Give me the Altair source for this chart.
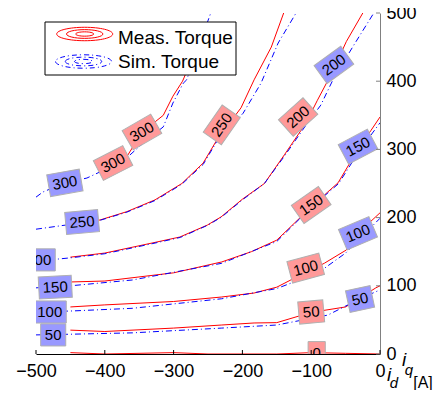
import altair as alt
import pandas as pd

# ---------------- data ----------------
LEVELS = [0, 50, 100, 150, 200, 250, 300]

# measured torque contours (red, solid)
M0_X = [-450, -400, -300, -250, -200, -150, -100, -50, 0]
M0_Y = [2, 0, 2, 0, 0, 0, 2, 1, 0]
M50_X = [-450, -400, -300, -230, -183, -150, -100, -50, -6, 0]
M50_Y = [35, 33, 38, 42.5, 45.5, 46, 61, 69, 97, 100]
M100_X = [-450, -400, -300, -230, -183, -150, -125, -81, -49, -32, 0]
M100_Y = [69, 72, 77, 83.6, 89.4, 98, 111, 133, 152.5, 177, 207]
M150_X = [-450, -400, -300, -230, -187, -150, -115, -76, -61, -32, -13, 0]
M150_Y = [105.6, 107, 119, 135, 150, 167, 201, 237.5, 251, 300, 328, 347.5]
M200_X = [-450, -400, -330, -291, -251, -231, -200, -168, -139, -108, -91, -69, -49, -25]
M200_Y = [142, 148, 163, 171.5, 189, 201, 227, 250, 292, 338, 372, 414, 458, 500]
M250_X = [-450, -407, -368, -327, -288, -257, -237, -202, -183, -158, -140]
M250_Y = [190, 196.5, 208.7, 226, 250, 280, 314, 361, 402, 450, 500]
M300_X = [-405, -388, -371, -346, -315, -301, -287, -270, -262]
M300_Y = [272, 280, 284.5, 325, 350, 378, 400, 440, 470]

# simulated torque contours (blue, dash-dot)
S50_X = [-500, -450, -360, -230, -150, -76, -29, 0]
S50_Y = [28, 29, 31, 38, 42.5, 57, 81, 94]
S100_X = [-500, -450, -360, -230, -150, -90, -50, 0]
S100_Y = [62, 63, 67, 81, 96, 119, 148, 199]
S150_X = [-500, -450, -360, -230, -150, -100, -60, -30, 0]
S150_Y = [97, 100, 108.5, 133, 165, 215, 250, 298, 339]
S200_X = [-500, -450, -400, -330, -290, -250, -230, -200, -168, -139, -108, -86, -67, -38, -9]
S200_Y = [136, 141, 147, 162, 171, 189, 201, 226, 250, 290, 335, 365, 405, 453, 500]
S250_X = [-500, -450, -407, -368, -327, -288, -257, -237, -199, -173, -148, -122]
S250_Y = [183, 190, 196, 208, 225, 249, 278, 312, 353, 397, 456, 500]
S300_X = [-500, -490, -458, -426, -390, -371, -339, -315, -301, -286, -281, -246]
S300_Y = [230, 237.5, 251, 258, 275, 285, 314, 333, 368, 397, 402, 500]

# contour labels
LABEL_TEXT = ["300", "300", "300", "250", "250", "200", "200", "200", "150",
              "150", "150", "100", "100", "100", "50", "50", "50", "0"]
LABEL_SRC = ["meas", "meas", "sim", "meas", "sim", "sim", "meas", "sim", "sim",
             "meas", "sim", "sim", "meas", "sim", "sim", "meas", "sim", "meas"]
LABEL_X = [-346, -388, -458, -230, -433, -496, -119, -67, -472,
           -100, -32, -480, -108, -32, -475, -100, -29, -92]
LABEL_Y = [325.5, 280, 251, 336, 193.5, 138, 347.5, 424, 98,
           218.5, 304, 61.6, 126, 177, 28, 61.6, 80.6, 2]
LABEL_ROT = [-30, -27, -10, -55, -5, 0, -42, -36, -3,
             -35, -28, 0, -15, -23, 0, -5, -12, 0]

X_TICKS = [-500, -400, -300, -200, -100, 0]
Y_TICKS = [0, 100, 200, 300, 400, 500]
LEGEND_TEXT = ["Meas. Torque", "Sim. Torque"]
LEGEND_SIZES = [3136, 1325, 324]

# ---------------- build tables ----------------
meas = {0: (M0_X, M0_Y), 50: (M50_X, M50_Y), 100: (M100_X, M100_Y),
        150: (M150_X, M150_Y), 200: (M200_X, M200_Y), 250: (M250_X, M250_Y),
        300: (M300_X, M300_Y)}
sim = {50: (S50_X, S50_Y), 100: (S100_X, S100_Y), 150: (S150_X, S150_Y),
       200: (S200_X, S200_Y), 250: (S250_X, S250_Y), 300: (S300_X, S300_Y)}


def to_df(d):
    rows = []
    for lev, (xs, ys) in d.items():
        for i, (a, b) in enumerate(zip(xs, ys)):
            rows.append({"level": lev, "i": i, "x": a, "y": b})
    return pd.DataFrame(rows)


meas_df = to_df(meas)
sim_df = to_df(sim)
lab_df = pd.DataFrame({
    "label": LABEL_TEXT, "src": LABEL_SRC, "x": LABEL_X, "y": LABEL_Y,
    "ang": [(360 + r) % 360 for r in LABEL_ROT],
    "nd": [str(len(t)) for t in LABEL_TEXT],
})

W, H = 344, 341
FONT = "Liberation Sans"

XS = alt.Scale(domain=[-500, 0], nice=False, zero=False)
YS = alt.Scale(domain=[0, 500], nice=False, zero=False)
XA = alt.Axis(values=X_TICKS, ticks=False, grid=False, domainColor="black",
              domainWidth=1, labelFontSize=18, labelFont=FONT, labelColor="black",
              labelPadding=8, labelFlush=False, labelOverlap=False, title="",
              orient="bottom")
YA = alt.Axis(values=Y_TICKS, ticks=False, grid=False, domainColor="#808080",
              domainWidth=1, labelFontSize=18, labelFont=FONT, labelColor="black",
              labelPadding=6, labelFlush=False, labelOverlap=False, title="",
              orient="right", labelAlign="left", labelBaseline="middle")


def X(f):
    return alt.X(f"{f}:Q", scale=XS, axis=XA)


def Y(f):
    return alt.Y(f"{f}:Q", scale=YS, axis=YA)


red_lines = alt.Chart(meas_df).mark_line(color="#FF0000", strokeWidth=1, clip=True).encode(
    x=X("x"), y=Y("y"), detail="level:N", order="i:Q")
blue_lines = alt.Chart(sim_df).mark_line(
    color="#0000FF", strokeWidth=1, strokeDash=[6, 3, 1, 3], clip=True).encode(
    x=X("x"), y=Y("y"), detail="level:N", order="i:Q")

RECT3 = "M -1 -0.67 L 1 -0.67 L 1 0.67 L -1 0.67 Z"
RECT2 = "M -0.76 -0.67 L 0.76 -0.67 L 0.76 0.67 L -0.76 0.67 Z"
RECT1 = "M -0.52 -0.67 L 0.52 -0.67 L 0.52 0.67 L -0.52 0.67 Z"

label_boxes = alt.Chart(lab_df).mark_point(
    filled=True, opacity=1, size=1089, stroke="#B0B0B0", strokeWidth=1, clip=True).encode(
    x=X("x"), y=Y("y"),
    shape=alt.Shape("nd:N", scale=alt.Scale(domain=["1", "2", "3"], range=[RECT1, RECT2, RECT3]), legend=None),
    fill=alt.Fill("src:N", scale=alt.Scale(domain=["meas", "sim"], range=["#FF9999", "#9999FF"]), legend=None),
    angle=alt.Angle("ang:Q", scale=None),
)
label_text = alt.Chart(lab_df).mark_text(
    font=FONT, fontSize=15, color="black", align="center", baseline="middle", clip=True).encode(
    x=X("x"), y=Y("y"), text="label:N", angle=alt.Angle("ang:Q", scale=None))

bottom_ticks = alt.Chart(pd.DataFrame({"t": X_TICKS})).mark_rule(color="black", strokeWidth=1).encode(
    x=X("t"), y=alt.value(H), y2=alt.value(H - 4))
right_ticks = alt.Chart(pd.DataFrame({"t": Y_TICKS})).mark_rule(color="#808080", strokeWidth=1).encode(
    y=Y("t"), x=alt.value(W), x2=alt.value(W - 4))

one = pd.DataFrame({"k": [0]})
legend_box = alt.Chart(one).mark_rect(fill="white", stroke="black", strokeWidth=1).encode(
    x=alt.value(9), x2=alt.value(200), y=alt.value(9), y2=alt.value(62))

ELLIPSE = "M -1 0 A 1 0.24 0 1 0 1 0 A 1 0.24 0 1 0 -1 0 Z"
sizes_df = pd.DataFrame({"s": LEGEND_SIZES})
leg_red = alt.Chart(sizes_df).mark_point(
    shape=ELLIPSE, filled=False, stroke="#FF0000", strokeWidth=1, opacity=1).encode(
    x=alt.value(48.7), y=alt.value(21), size=alt.Size("s:Q", scale=None))
leg_blue = alt.Chart(sizes_df).mark_point(
    shape=ELLIPSE, filled=False, stroke="#0000FF", strokeWidth=1, opacity=1,
    strokeDash=[5, 3, 1, 3]).encode(
    x=alt.value(47.5), y=alt.value(48.5), size=alt.Size("s:Q", scale=None))
leg_text = alt.Chart(pd.DataFrame({"t": LEGEND_TEXT, "yy": [25, 48.5]})).mark_text(
    font=FONT, fontSize=19, color="black", align="left", baseline="middle").encode(
    x=alt.value(82), y=alt.Y("yy:Q", scale=None), text="t:N")

ital_big = pd.DataFrame({"t": ["i", "i"], "px": [368, 353], "py": [347, 362]})
ital_sub = pd.DataFrame({"t": ["q", "d"], "px": [373, 358], "py": [357, 370]})
unit = pd.DataFrame({"t": ["[A]"], "px": [387], "py": [370]})
axis_i = alt.Chart(ital_big).mark_text(
    font=FONT, fontSize=19, fontStyle="italic", color="black", align="center", baseline="middle").encode(
    x=alt.X("px:Q", scale=None), y=alt.Y("py:Q", scale=None), text="t:N")
axis_sub = alt.Chart(ital_sub).mark_text(
    font=FONT, fontSize=15, fontStyle="italic", color="black", align="center", baseline="middle").encode(
    x=alt.X("px:Q", scale=None), y=alt.Y("py:Q", scale=None), text="t:N")
axis_unit = alt.Chart(unit).mark_text(
    font=FONT, fontSize=16, color="black", align="center", baseline="middle").encode(
    x=alt.X("px:Q", scale=None), y=alt.Y("py:Q", scale=None), text="t:N")

chart = alt.layer(
    red_lines, blue_lines, label_boxes, label_text, bottom_ticks, right_ticks,
    legend_box, leg_red, leg_blue, leg_text, axis_i, axis_sub, axis_unit,
).properties(
    width=W, height=H,
    autosize=alt.AutoSizeParams(type="none"),
    padding={"left": 28, "top": 5, "right": 54, "bottom": 36},
).configure_view(strokeWidth=0)

chart.save("out.html", embed_options={"renderer": "svg", "actions": False})
